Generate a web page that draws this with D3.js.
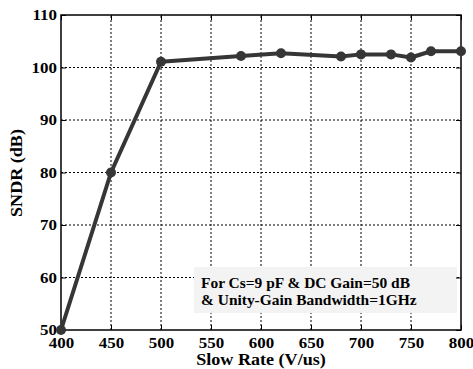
<!DOCTYPE html>
<html>
<head>
<meta charset="utf-8">
<script src="https://cdn.jsdelivr.net/npm/d3@7"></script>
<style>
html,body{margin:0;padding:0;background:#fff;}
svg{display:block;}
text{font-family:"Liberation Serif","Times New Roman",serif;font-weight:bold;fill:#000;}
</style>
</head>
<body>
<svg id="chart" width="473" height="369"></svg>
<script>
const slewRates = [400, 450, 500, 580, 620, 680, 700, 730, 750, 770, 800];
const sndrValues = [50, 80, 101.1, 102.2, 102.7, 102.1, 102.5, 102.5, 101.9, 103.1, 103.1];
const xTicks = [400, 450, 500, 550, 600, 650, 700, 750, 800];
const yTicks = [50, 60, 70, 80, 90, 100, 110];
const xLabel = "Slow Rate (V/us)";
const yLabel = "SNDR (dB)";
const noteLines = ["For Cs=9 pF & DC Gain=50 dB", "& Unity-Gain Bandwidth=1GHz"];

const SX = 1.13; // horizontal stretch of the reference lettering
const SXN = 1.03; // stretch of the note lettering
const svg = d3.select("#chart");
const m = {left: 61, right: 12, top: 15, bottom: 39};
const W = 473, H = 369;
const x = d3.scaleLinear().domain([400, 800]).range([m.left, W - m.right]);
const y = d3.scaleLinear().domain([50, 110]).range([H - m.bottom, m.top]);

// grid
const grid = svg.append("g");
grid.selectAll(".gx").data(xTicks.slice(1, -1)).join("line")
  .attr("x1", d => x(d)).attr("x2", d => x(d))
  .attr("y1", y(50)).attr("y2", y(110))
  .attr("stroke", "#000").attr("stroke-width", 1).attr("stroke-dasharray", "2,2");
grid.selectAll(".gy").data(yTicks.slice(1, -1)).join("line")
  .attr("y1", d => y(d)).attr("y2", d => y(d))
  .attr("x1", x(400)).attr("x2", x(800))
  .attr("stroke", "#000").attr("stroke-width", 1).attr("stroke-dasharray", "2,2");

// note box
const bx0 = 194, by0 = 267, bx1 = 457, by1 = 313;
svg.append("rect").attr("x", bx0).attr("y", by0).attr("width", bx1 - bx0).attr("height", by1 - by0)
  .attr("fill", "#f3f3f3");
svg.selectAll(".note").data(noteLines).join("text")
  .attr("transform", (d, i) => `translate(201,${288 + i * 17}) scale(${SXN},1)`)
  .attr("font-size", 15).text(d => d);

// axes
const xAxis = d3.axisBottom(x).tickValues(xTicks).tickSize(-5).tickPadding(7).tickFormat(d3.format("d"));
const yAxis = d3.axisLeft(y).tickValues(yTicks).tickSize(-5).tickPadding(4).tickFormat(d3.format("d"));
const gx = svg.append("g").attr("transform", `translate(0,${y(50)})`).call(xAxis);
const gy = svg.append("g").attr("transform", `translate(${x(400)},0)`).call(yAxis);
[gx, gy].forEach(g => {
  g.select(".domain").remove();
  g.selectAll(".tick line").attr("stroke", "#000");
  g.selectAll("text").attr("font-size", 15).attr("font-family", "Liberation Serif, serif")
    .attr("font-weight", "bold").attr("fill", "#000").attr("transform", `scale(${SX},1)`);
});
gy.selectAll("text").attr("x", -4 / SX);
// right/top ticks
const gxTop = svg.append("g").attr("transform", `translate(0,${y(110)})`)
  .call(d3.axisTop(x).tickValues(xTicks).tickSize(-5).tickFormat(""));
const gyR = svg.append("g").attr("transform", `translate(${x(800)},0)`)
  .call(d3.axisRight(y).tickValues(yTicks).tickSize(-5).tickFormat(""));
[gxTop, gyR].forEach(g => { g.select(".domain").remove(); g.selectAll(".tick line").attr("stroke", "#000"); });

svg.append("rect").attr("x", x(400)).attr("y", y(110))
  .attr("width", x(800) - x(400)).attr("height", y(50) - y(110))
  .attr("fill", "none").attr("stroke", "#000").attr("stroke-width", 1.5);

// series
const data = slewRates.map((s, i) => ({s, v: sndrValues[i]}));
svg.append("path").datum(data)
  .attr("d", d3.line().x(d => x(d.s)).y(d => y(d.v)))
  .attr("fill", "none").attr("stroke", "#363636").attr("stroke-width", 4).attr("stroke-linejoin", "round");
svg.selectAll(".pt").data(data).join("circle")
  .attr("cx", d => x(d.s)).attr("cy", d => y(d.v)).attr("r", 5)
  .attr("fill", "#363636");

// labels
svg.append("text").attr("transform", `translate(${(x(400) + x(800)) / 2},365) scale(${SX},1)`)
  .attr("text-anchor", "middle").attr("font-size", 16).text(xLabel);
svg.append("text").attr("transform", `translate(22,173) rotate(-90) scale(${SX},1)`)
  .attr("text-anchor", "middle").attr("font-size", 16).text(yLabel);
</script>
</body>
</html>
